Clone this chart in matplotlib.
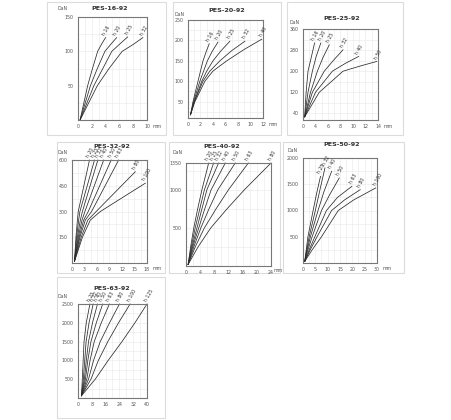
import matplotlib
matplotlib.use("Agg")
import matplotlib.pyplot as plt
from matplotlib.patches import Rectangle
from matplotlib.ticker import AutoMinorLocator

#---------------------------------------#
# DATA (DaN vs mm)
#---------------------------------------#

# PES-16-92
pes16_labels = ["h 16", "h 20", "h 25", "h 32"]
pes16_x = [[0.3, 1.4, 2.1, 2.85, 3.5, 4.0],
           [0.3, 1.8, 2.8, 3.9, 4.9, 5.6],
           [0.3, 2.3, 3.6, 4.9, 6.2, 7.2],
           [0.3, 2.8, 4.5, 6.4, 8.0, 9.4]]
pes16_y = [[0, 50, 75, 100, 112, 120],
           [0, 50, 75, 100, 112, 120],
           [0, 50, 75, 100, 112, 121],
           [0, 50, 75, 100, 110, 120]]

# PES-20-92
pes20_labels = ["h 16", "h 20", "h 25", "h 32", "h 40"]
pes20_x = [[0.4, 0.8, 1.6, 2.0, 2.4, 2.9, 3.4],
           [0.4, 0.9, 1.9, 2.5, 3.1, 3.9, 4.8],
           [0.4, 1.0, 2.2, 3.0, 4.0, 5.3, 6.7],
           [0.4, 1.0, 2.4, 3.5, 5.1, 7.0, 9.1],
           [0.4, 1.1, 2.7, 4.0, 6.2, 9.0, 11.8]]
pes20_y = [[18, 50, 100, 125, 150, 172, 192],
           [18, 50, 100, 125, 150, 174, 196],
           [18, 50, 100, 125, 150, 175, 198],
           [18, 50, 100, 125, 150, 175, 198],
           [18, 50, 100, 125, 150, 178, 203]]

# PES-25-92
pes25_labels = ["h 16", "h 20", "h 25", "h 32", "h 40", "h 50"]
pes25_x = [[2.27, 2.5, 2.8, 3.3, 3.85],
           [2.27, 2.8, 3.5, 4.1, 4.85],
           [2.27, 3.2, 4.3, 5.2, 6.2],
           [2.27, 3.5, 5.4, 6.9, 8.4],
           [2.27, 4.0, 6.7, 8.8, 10.9],
           [2.27, 4.6, 8.4, 11.2, 13.8]]
pes25_y = [[27, 120, 200, 250, 307],
           [27, 120, 200, 255, 307],
           [27, 120, 200, 252, 300],
           [27, 120, 200, 242, 281],
           [27, 120, 200, 230, 256],
           [27, 120, 200, 220, 237]]

# PES-32-92
pes32_labels = ["h 20", "h 25", "h 32", "h 40", "h 50", "h 63", "h 80", "h 100"]
pes32_x = [[0.6, 0.95, 1.3, 1.5, 4.2],
           [0.6, 1.1, 1.6, 1.9, 5.4],
           [0.6, 1.3, 2.0, 2.5, 6.2],
           [0.6, 1.5, 2.4, 3.1, 7.6],
           [0.6, 1.7, 2.8, 3.9, 9.4],
           [0.6, 1.9, 3.2, 4.7, 11.2],
           [0.6, 2.2, 3.8, 5.8, 15.2],
           [0.6, 2.5, 4.4, 6.8, 17.6]]
pes32_y = [[10, 150, 250, 300, 600],
           [10, 150, 250, 300, 600],
           [10, 150, 250, 300, 600],
           [10, 150, 250, 300, 600],
           [10, 150, 250, 300, 600],
           [10, 150, 250, 300, 600],
           [10, 150, 250, 300, 532],
           [10, 150, 250, 300, 465]]

# PES-40-92
pes40_labels = ["h 20", "h 25", "h 32", "h 40", "h 50", "h 63", "h 80"]
pes40_x = [[0.6, 1.3, 2.2, 3.3, 4.5, 6.4],
           [0.6, 1.5, 2.6, 3.9, 5.2, 7.8],
           [0.6, 1.7, 3.1, 4.5, 5.9, 9.2],
           [0.6, 1.9, 3.6, 5.3, 7.1, 11.1],
           [0.6, 2.2, 4.2, 6.5, 9.0, 13.9],
           [0.6, 2.6, 5.2, 8.5, 12.0, 17.6],
           [0.6, 3.4, 7.0, 11.6, 16.5, 24.0]]
pes40_y = [[20, 250, 500, 750, 1000, 1350],
           [20, 250, 500, 750, 1000, 1350],
           [20, 250, 500, 750, 1000, 1350],
           [20, 250, 500, 750, 1000, 1350],
           [20, 250, 500, 750, 1000, 1350],
           [20, 250, 500, 750, 1000, 1350],
           [20, 250, 500, 750, 1000, 1350]]

# PES-50-92
pes50_labels = ["h 25", "h 32", "h 40", "h 50", "h 63", "h 80", "h 100"]
pes50_x = [[0.7, 1.3, 2.0, 4.1, 5.5, 7.1],
           [0.7, 1.5, 2.5, 5.0, 6.8, 8.9],
           [0.7, 1.7, 3.0, 6.1, 8.5, 11.6],
           [0.7, 2.0, 3.7, 7.5, 10.8, 14.7],
           [0.7, 2.5, 4.8, 9.5, 14.0, 19.8],
           [0.7, 2.9, 5.7, 11.6, 16.8, 23.2],
           [0.7, 3.7, 7.5, 14.3, 20.5, 29.5]]
pes50_y = [[30, 250, 500, 1000, 1320, 1650],
           [30, 250, 500, 1000, 1380, 1810],
           [30, 250, 500, 1000, 1360, 1746],
           [30, 250, 500, 1000, 1300, 1619],
           [30, 250, 500, 1000, 1250, 1460],
           [30, 250, 500, 1000, 1200, 1397],
           [30, 250, 500, 1000, 1200, 1430]]

# PES-63-92
pes63_labels = ["h 25", "h 32", "h 40", "h 50", "h 63", "h 80", "h 100", "h 125"]
pes63_x = [[2.0, 2.5, 3.0, 3.5, 4.8, 6.9],
           [2.0, 3.1, 3.9, 4.7, 6.4, 8.8],
           [2.0, 3.7, 4.8, 6.1, 8.4, 11.3],
           [2.0, 4.3, 5.7, 7.5, 10.6, 14.3],
           [2.0, 5.1, 7.0, 9.4, 13.5, 18.2],
           [2.0, 6.1, 9.0, 12.9, 18.3, 24.0],
           [2.0, 7.5, 11.8, 17.3, 23.5, 30.2],
           [2.0, 10.0, 17.5, 25.5, 33.0, 40.0]]
pes63_y = [[60, 500, 1000, 1500, 2000, 2500],
           [60, 500, 1000, 1500, 2000, 2500],
           [60, 500, 1000, 1500, 2000, 2500],
           [60, 500, 1000, 1500, 2000, 2500],
           [60, 500, 1000, 1500, 2000, 2500],
           [60, 500, 1000, 1500, 2000, 2500],
           [60, 500, 1000, 1500, 2000, 2500],
           [60, 500, 1000, 1500, 2000, 2500]]

#---------------------------------------#
# LAYOUT (pixel boxes: left, top, right, bottom)
#---------------------------------------#
W, H = 452, 420

panels = [
    dict(title="PES-16-92", labels=pes16_labels, xs=pes16_x, ys=pes16_y,
         xlim=(0, 10), ylim=(0, 150), xticks=[0, 2, 4, 6, 8, 10], yticks=[50, 100, 150],
         box=(78, 17, 147, 120), card=(47, 2, 166, 135),
         title_xy=(110, 9), dan_xy=(63, 8), mm_xy=(157, 127)),
    dict(title="PES-20-92", labels=pes20_labels, xs=pes20_x, ys=pes20_y,
         xlim=(0, 12), ylim=(10, 250), xticks=[0, 2, 4, 6, 8, 10, 12], yticks=[50, 100, 150, 200, 250],
         box=(188, 20, 263, 118), card=(173, 2, 281, 135),
         title_xy=(227, 10), dan_xy=(180, 15), mm_xy=(273, 125)),
    dict(title="PES-25-92", labels=pes25_labels, xs=pes25_x, ys=pes25_y,
         xlim=(2, 14), ylim=(15, 360), xticks=[2, 4, 6, 8, 10, 12, 14], yticks=[40, 120, 200, 280, 360],
         xticklabels=["0", "4", "6", "8", "10", "12", "14"],
         box=(303, 29, 378, 120), card=(287, 2, 403, 135),
         title_xy=(342, 18), dan_xy=(295, 23), mm_xy=(388, 127)),
    dict(title="PES-32-92", labels=pes32_labels, xs=pes32_x, ys=pes32_y,
         xlim=(0, 18), ylim=(0, 600), xticks=[0, 3, 6, 9, 12, 15, 18], yticks=[150, 300, 450, 600],
         box=(72, 160, 147, 263), card=(57, 142, 165, 273),
         title_xy=(112, 147), dan_xy=(63, 153), mm_xy=(157, 268)),
    dict(title="PES-40-92", labels=pes40_labels, xs=pes40_x, ys=pes40_y,
         xlim=(0, 24), ylim=(0, 1350), xticks=[0, 4, 8, 12, 16, 20, 24], yticks=[500, 1000, 1350],
         box=(186, 163, 271, 266), card=(169, 142, 280, 273),
         title_xy=(222, 146), dan_xy=(178, 153), mm_xy=(278, 271)),
    dict(title="PES-50-92", labels=pes50_labels, xs=pes50_x, ys=pes50_y,
         xlim=(0, 30), ylim=(0, 2000), xticks=[0, 5, 10, 15, 20, 25, 30], yticks=[500, 1000, 1500, 2000],
         box=(303, 158, 377, 263), card=(283, 142, 404, 273),
         title_xy=(342, 145), dan_xy=(293, 150), mm_xy=(387, 268)),
    dict(title="PES-63-92", labels=pes63_labels, xs=pes63_x, ys=pes63_y,
         xlim=(0, 40), ylim=(0, 2500), xticks=[0, 8, 16, 24, 32, 40], yticks=[500, 1000, 1500, 2000, 2500],
         box=(78, 304, 147, 398), card=(57, 277, 165, 418),
         title_xy=(112, 288), dan_xy=(63, 297), mm_xy=None),
]


# convert a pixel position to figure fraction
def fx(px):
    return px / W

def fy(py):
    return 1 - py / H


fig = plt.figure(figsize=(W / 100, H / 100), dpi=100)
fig.patch.set_facecolor("white")

for p in panels:
    # light card outline round each chart
    l, t, r, b = p["card"]
    fig.patches.append(Rectangle((fx(l), fy(b)), fx(r) - fx(l), fy(t) - fy(b),
                                 transform=fig.transFigure, facecolor="none",
                                 edgecolor="#dcdcdc", linewidth=0.8, zorder=-1))

    l, t, r, b = p["box"]
    ax = fig.add_axes([fx(l), fy(b), fx(r) - fx(l), fy(t) - fy(b)])
    ax.patch.set_alpha(0)
    ax.set_xlim(*p["xlim"])
    ax.set_ylim(*p["ylim"])
    ax.set_xticks(p["xticks"])
    ax.set_yticks(p["yticks"])
    if "xticklabels" in p:
        ax.set_xticklabels(p["xticklabels"])
    ax.xaxis.set_minor_locator(AutoMinorLocator(2))
    ax.yaxis.set_minor_locator(AutoMinorLocator(2))
    ax.grid(True, which="both", color="#e8e8e8", linewidth=0.4)
    ax.set_axisbelow(True)
    ax.tick_params(which="both", length=0, labelsize=3.4, colors="#555555", pad=3)
    for s in ax.spines.values():
        s.set_color("#777777")
        s.set_linewidth(0.8)

    # curves and their rotated labels
    for lab, xs, ys in zip(p["labels"], p["xs"], p["ys"]):
        ax.plot(xs, ys, color="#2a2a2a", linewidth=0.55, clip_on=False,
                solid_joinstyle="round")
        ax.annotate(lab, xy=(xs[-1], ys[-1]), xytext=(0.5, 1.0), textcoords="offset points",
                    rotation=60, rotation_mode="anchor", ha="left", va="bottom",
                    fontsize=3.3, color="#333333", annotation_clip=False)

    fig.text(fx(p["title_xy"][0]), fy(p["title_xy"][1]), p["title"], ha="center", va="center",
             fontsize=4.6, fontweight="bold", color="#333333")
    fig.text(fx(p["dan_xy"][0]), fy(p["dan_xy"][1]), "DaN", ha="center", va="center",
             fontsize=3.4, color="#555555")
    if p["mm_xy"]:
        fig.text(fx(p["mm_xy"][0]), fy(p["mm_xy"][1]), "mm", ha="center", va="center",
                 fontsize=3.4, color="#555555")

fig.savefig("out.png", dpi=100, facecolor="white")
